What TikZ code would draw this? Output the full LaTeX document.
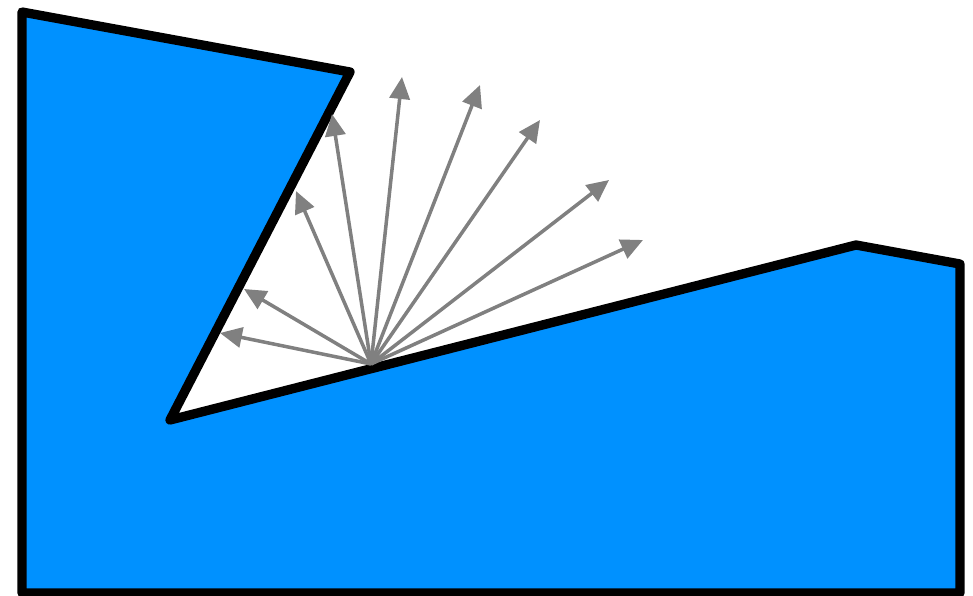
\documentclass[tikz,border=0pt]{standalone}
\usepackage{tikz}
\usetikzlibrary{arrows.meta}
\definecolor{solidblue}{RGB}{0,145,255}
\definecolor{raygray}{RGB}{128,128,128}

\begin{document}
\begin{tikzpicture}[
  x=0.02cm, y=-0.02cm,
  body/.style={draw=black, fill=solidblue, line width=5.3pt, line join=round},
  ray/.style={-{Triangle[length=12.5pt, width=11.5pt]}, draw=raygray, fill=raygray, line width=2pt}
]
\useasboundingbox (0,0) rectangle (973,595);

% Solid body with the notch
\draw[body] (22,12) -- (350,72) -- (170,420) -- (856,245) -- (960,264)
  -- (960,593) -- (22,593) -- cycle;

% Emission point on the surface
\coordinate (src) at (371,364);

% Fan of rays
\foreach \tx/\ty in {220/333, 244/289, 296/191, 332/114, 402/77, 480/85, 540/120, 609/180, 643/240}
  \draw[ray] (src) -- (\tx,\ty);
\end{tikzpicture}
\end{document}
